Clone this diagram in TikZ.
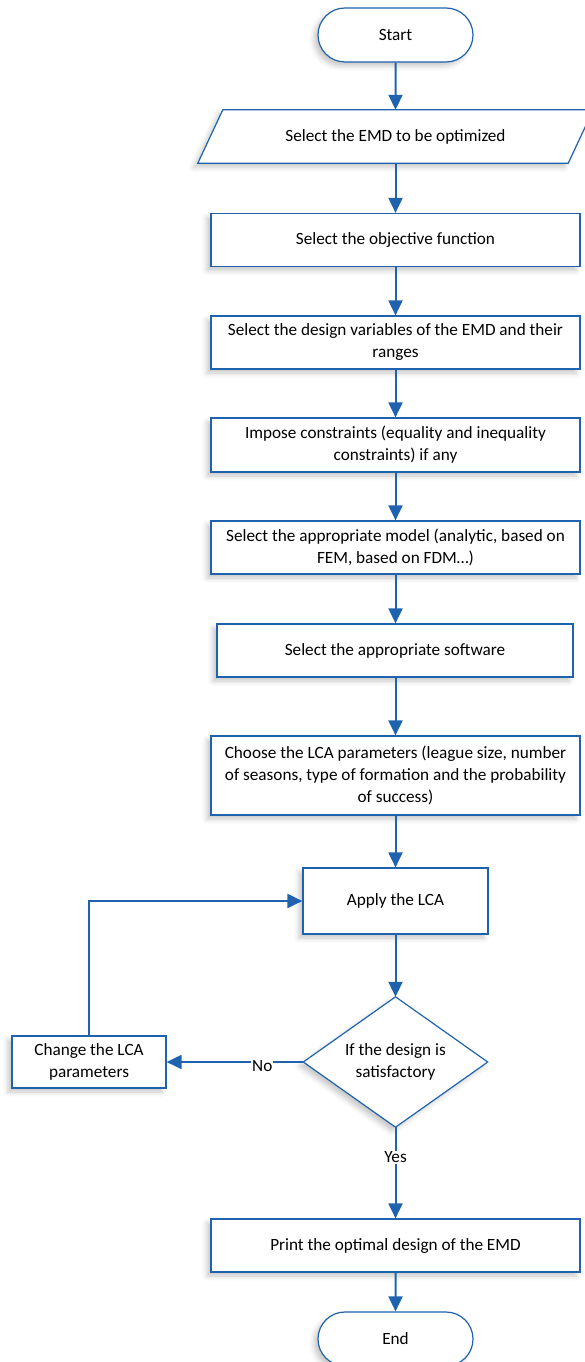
\documentclass[tikz,border=0pt]{standalone}
\usepackage{fontspec}
\setmainfont{Carlito}
\usetikzlibrary{arrows.meta,shapes.misc,shadows.blur}
\definecolor{flowblue}{RGB}{31,99,175}
\tikzset{
  every node/.style={font=\fontsize{17.2}{22}\selectfont, text=black, align=center, inner sep=0pt},
  sh/.style={blur shadow={shadow xshift=-4pt, shadow yshift=-4pt, shadow blur radius=5pt, shadow opacity=22}},
  procbox/.style={draw=flowblue, line width=1.2pt, fill=white, rectangle, minimum height=53pt, minimum width=369pt, sh},
  term/.style={draw=flowblue, line width=1.2pt, fill=white, rounded rectangle, minimum width=155pt, minimum height=54pt, sh},
  conn/.style={draw=flowblue, line width=2pt, -{Triangle[length=15pt,width=14pt]}},
  lbl/.style={fill=white, inner xsep=1pt, inner ysep=1pt}
}
\begin{document}
\begin{tikzpicture}[x=1pt,y=-1pt]
\useasboundingbox (0,0) rectangle (585,1362);
\node[term] (start) at (395.5,35) {Start};
\node[minimum width=370pt, minimum height=53pt] (emd) at (395.5,136.5) {};
\path[draw=flowblue, line width=1.2pt, fill=white, sh]
  ([xshift=-12.5pt]emd.south west) -- ([xshift=12.5pt]emd.north west) -- ([xshift=12.5pt]emd.north east) -- ([xshift=-12.5pt]emd.south east) -- cycle;
\node at (emd.center) {Select the EMD to be optimized};
\node[procbox] (obj) at (395.5,240) {Select the objective function};
\node[procbox] (vars) at (395.5,342.5) {Select the design variables of the EMD and their\\ranges};
\node[procbox, minimum height=54pt] (cons) at (395.5,445) {Impose constraints (equality and inequality\\constraints) if any};
\node[procbox] (model) at (395.5,547.5) {Select the appropriate model (analytic, based on\\FEM, based on FDM\ldots)};
\node[procbox, minimum width=356pt] (soft) at (395,650.5) {Select the appropriate software};
\node[procbox, minimum height=79pt] (lca) at (395.5,775.5) {Choose the LCA parameters (league size, number\\of seasons, type of formation and the probability\\of success)};
\node[procbox, minimum width=185pt, minimum height=66pt] (apply) at (395.5,901) {Apply the LCA};
\node[minimum width=184pt, minimum height=130pt] (dec) at (395.5,1062) {};
\path[draw=flowblue, line width=1.2pt, fill=white, sh]
  (dec.north) -- (dec.east) -- (dec.south) -- (dec.west) -- cycle;
\node at (dec.center) {If the design is\\satisfactory};
\node[procbox, minimum width=154pt, minimum height=52pt] (change) at (89,1062) {Change the LCA\\parameters};
\node[procbox] (print) at (395.5,1245.5) {Print the optimal design of the EMD};
\node[term] (end) at (395.5,1339) {End};
\draw[conn] (start) -- (emd);
\draw[conn] (emd) -- (obj);
\draw[conn] (obj) -- (vars);
\draw[conn] (vars) -- (cons);
\draw[conn] (cons) -- (model);
\draw[conn] (model.south) -- (model.south |- soft.north);
\draw[conn] (soft.south -| lca.north) -- (lca.north);
\draw[conn] (lca) -- (apply);
\draw[conn] (apply) -- (dec.north);
\draw[conn] (dec.west) -- node[lbl, pos=0.3, yshift=-4pt] {No} (change.east);
\draw[conn] (change.north) |- (apply.west);
\draw[conn] (dec.south) -- node[lbl, pos=0.33] {Yes} (print.north);
\draw[conn] (print) -- (end);
\end{tikzpicture}
\end{document}
